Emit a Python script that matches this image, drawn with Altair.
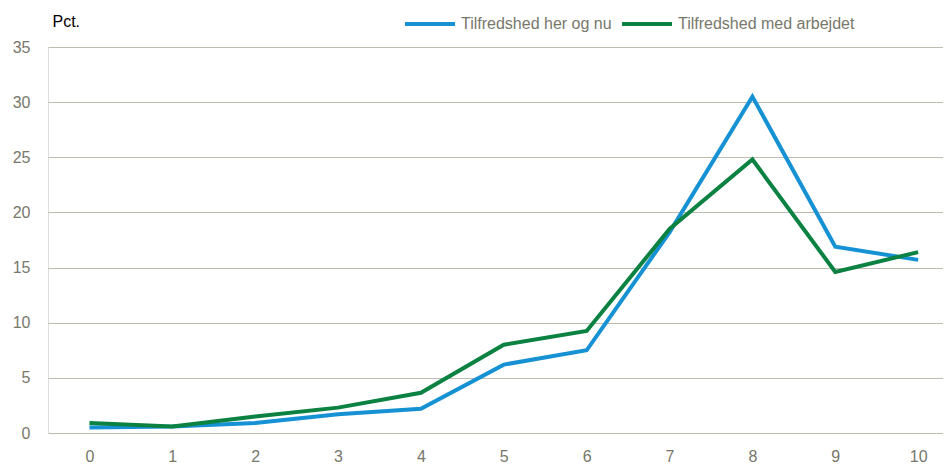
import altair as alt
import pandas as pd

scores = [0, 1, 2, 3, 4, 5, 6, 7, 8, 9, 10]
here_now = [0.5, 0.6, 0.9, 1.7, 2.2, 6.2, 7.5, 18.2, 30.5, 16.9, 15.7]
work = [0.9, 0.6, 1.5, 2.3, 3.65, 8.0, 9.25, 18.5, 24.8, 14.6, 16.4]
series_names = ["Tilfredshed her og nu", "Tilfredshed med arbejdet"]
series_colors = ["#1591d4", "#0b8142"]
y_ticks = [0, 5, 10, 15, 20, 25, 30, 35]

rows = []
for s, v in zip(scores, here_now):
    rows.append({"score": s, "pct": v, "serie": series_names[0]})
for s, v in zip(scores, work):
    rows.append({"score": s, "pct": v, "serie": series_names[1]})
df = pd.DataFrame(rows)

FONT = "Liberation Sans"
GRAY = "#77776b"

chart = alt.Chart(df).mark_line(strokeWidth=4, strokeJoin="miter").encode(
    x=alt.X("score:Q",
            scale=alt.Scale(domain=[-0.5, 10.3], nice=False, zero=False),
            axis=alt.Axis(values=scores, grid=False, domain=False, ticks=False, tickSize=0,
                          labelPadding=15, labelFontSize=16, labelColor=GRAY,
                          labelFont=FONT, title=None, format="d")),
    y=alt.Y("pct:Q",
            scale=alt.Scale(domain=[0, 35], nice=False),
            axis=alt.Axis(values=y_ticks, grid=True, gridColor="#bdbcaf", gridWidth=1,
                          domain=False, ticks=False, tickSize=0, labelPadding=18,
                          labelFontSize=16, labelColor=GRAY, labelFont=FONT,
                          title="Pct.", titleAngle=0, titleAlign="left", titleBaseline="middle",
                          titleX=4, titleY=-26, titleFont=FONT, titleFontSize=16,
                          titleFontWeight="normal", titleColor="#000000")),
    color=alt.Color("serie:N",
                    scale=alt.Scale(domain=series_names, range=series_colors),
                    legend=alt.Legend(title=None, orient="none", direction="horizontal",
                                      legendX=355, legendY=-50, symbolType="stroke",
                                      symbolSize=2500, symbolStrokeWidth=4,
                                      labelFont=FONT, labelFontSize=16, labelColor=GRAY,
                                      labelOffset=4, labelLimit=400, columnPadding=2,
                                      columns=2)),
).properties(
    width=895, height=386,
    autosize=alt.AutoSizeParams(type="none"),
    padding={"left": 40, "top": 39, "right": 0, "bottom": 33},
).configure_view(stroke=None).configure(background="white")

chart.save("out.html", embed_options={"renderer": "svg", "actions": False})
